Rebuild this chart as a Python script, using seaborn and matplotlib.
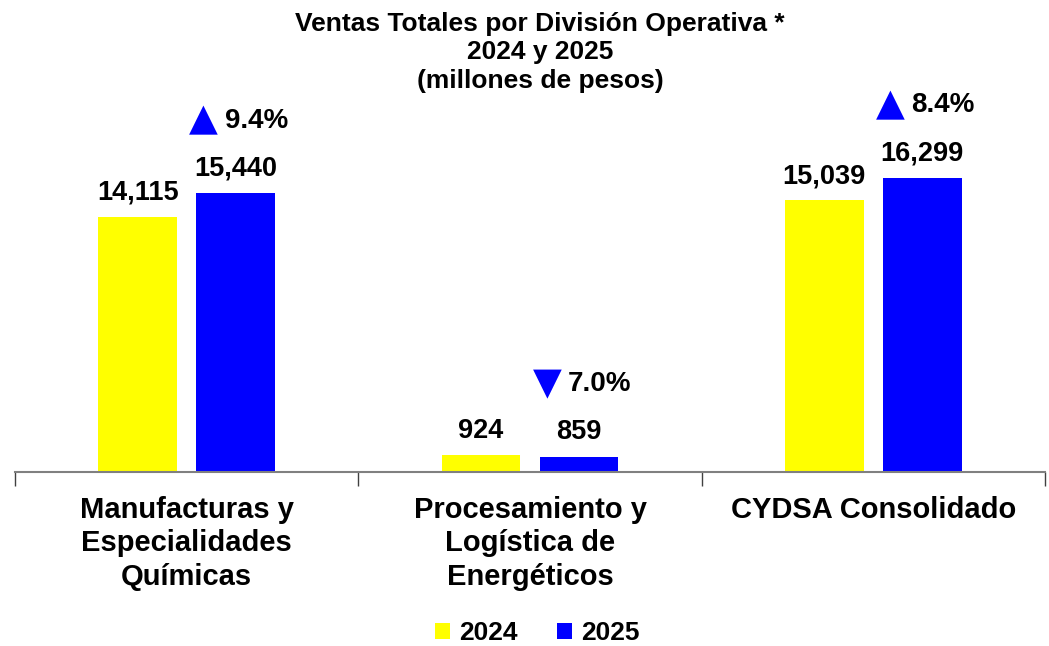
import pandas as pd
import matplotlib
matplotlib.use('Agg')
import matplotlib.pyplot as plt
import seaborn as sns

divisiones = ['Manufacturas y\nEspecialidades\nQuímicas',
              'Procesamiento y\nLogística de\nEnergéticos',
              'CYDSA Consolidado']
anios = ['2024', '2025']
ventas_2024 = [14115, 924, 15039]
ventas_2025 = [15440, 859, 16299]
variacion = ['9.4%', '7.0%', '8.4%']
sube = [True, False, True]

df = pd.DataFrame({
    'Division': divisiones * 2,
    'Año': [anios[0]] * 3 + [anios[1]] * 3,
    'Ventas': ventas_2024 + ventas_2025,
})

sns.set_style('white')
plt.rcParams['font.family'] = ['Liberation Sans', 'DejaVu Sans']
plt.rcParams['font.weight'] = 'bold'
plt.rcParams['text.color'] = 'black'
plt.rcParams['xtick.color'] = 'black'

fig = plt.figure(figsize=(10.49, 6.46), dpi=100)
ax = fig.add_axes([0.0143, 0.2693, 0.9819, 0.5762])

sns.barplot(data=df, x='Division', y='Ventas', hue='Año',
            palette=['#FFFF00', '#0000FF'], width=0.571, gap=0.2,
            saturation=1, linewidth=0, ax=ax, legend=True)

for cont in ax.containers:
    ax.bar_label(cont, labels=[f'{v:,.0f}' for v in cont.datavalues],
                 padding=8, fontsize=19.5, fontweight='bold')

# flechas de variacion sobre las barras de 2025
blue = ax.containers[1]
for rect, txt, up in zip(blue.patches, variacion, sube):
    xc = rect.get_x() + rect.get_width() / 2
    yt = rect.get_height()
    ax.annotate('▲' if up else '▼', xy=(xc, yt), xytext=(-23, 52),
                textcoords='offset points', ha='center', va='center',
                color='#0000FF', fontsize=27, family='DejaVu Sans')
    ax.annotate(txt, xy=(xc, yt), xytext=(-8, 52),
                textcoords='offset points', ha='left', va='center',
                fontsize=20, fontweight='bold')

ax.set_xlim(-0.5, 2.5)
ax.set_ylim(0, 20600)
ax.set_xlabel('')
ax.set_ylabel('')
ax.set_yticks([])
for s in ['top', 'right', 'left']:
    ax.spines[s].set_visible(False)
ax.spines['bottom'].set_color('#808080')
ax.spines['bottom'].set_linewidth(1.5)
ax.set_xticks([-0.5, 0.5, 1.5, 2.5], minor=True)
ax.tick_params(axis='x', which='minor', bottom=True, length=10,
               color='#404040', width=1)
ax.tick_params(axis='x', which='major', length=0, pad=17)
for lab in ax.get_xticklabels():
    lab.set_fontsize(21)
    lab.set_fontweight('bold')
    lab.set_linespacing(1.25)
    lab.set_va('top')

ax.legend(loc='center', bbox_to_anchor=(0.507, -0.433), ncol=2,
          frameon=False, handlelength=0.55, handleheight=0.55,
          handletextpad=0.35, columnspacing=1.5, borderpad=0.2,
          prop={'weight': 'bold', 'size': 19})

fig.text(0.515, 0.982, 'Ventas Totales por División Operativa *\n2024 y 2025\n(millones de pesos)',
         ha='center', va='top', fontsize=19, fontweight='bold', linespacing=1.24)

fig.savefig('out.png', dpi=100)
